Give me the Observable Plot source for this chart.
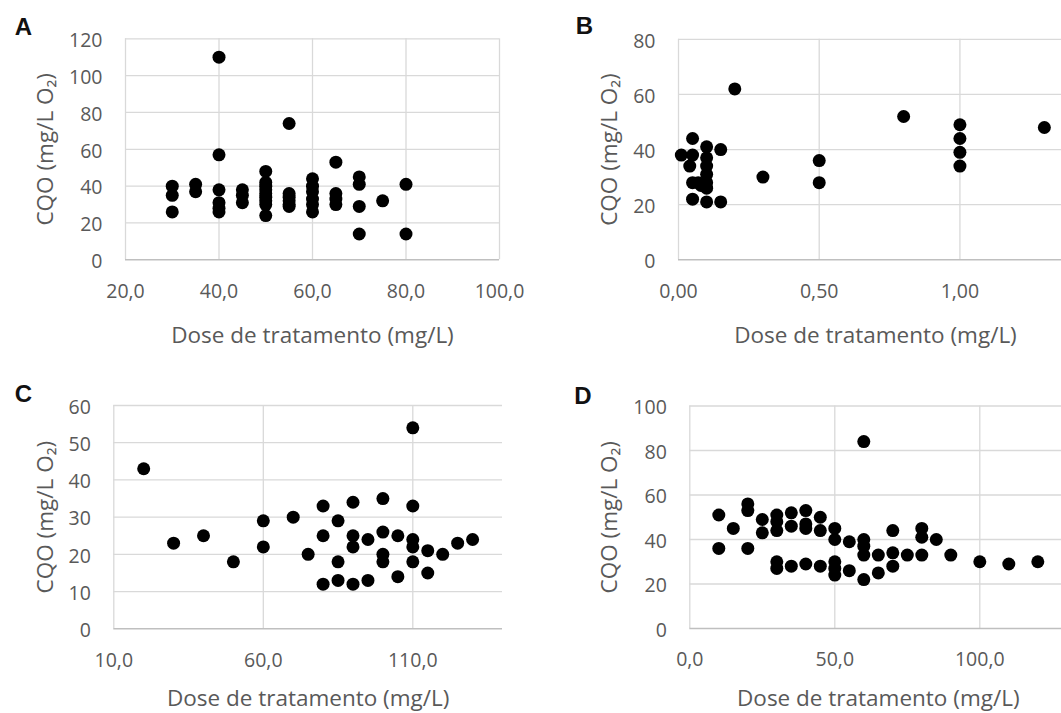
<!DOCTYPE html>
<html>
<head>
<meta charset="utf-8">
<script src="https://cdn.jsdelivr.net/npm/d3@7"></script>
<script src="https://cdn.jsdelivr.net/npm/@observablehq/plot@0.6"></script>
<style>
  html, body { margin: 0; padding: 0; background: #fff; overflow: hidden; }
  #wrap { position: relative; width: 1061px; height: 713px; overflow: hidden; background: #fff; }
  #wrap > svg { position: absolute; }
</style>
</head>
<body>
<div id="wrap"></div>
<script>
// ---------- DATA ----------
const xTitle = "Dose de tratamento (mg/L)";
const yTitle = "CQO (mg/L O\u2082)";
const panelLetters = ["A", "B", "C", "D"];

// Panel A
const aDose = [30,30,30, 35,35, 40,40,40,40,40,40, 45,45,45, 50,50,50,50,50,50,50,50,50, 55,55,55,55,55,55, 60,60,60,60,60,60, 65,65,65,65, 70,70,70,70, 75, 80,80];
const aCQO  = [40,35,26, 41,37, 110,57,38,31,28,26, 38,35,31, 48,42,40,38,36,34,32,30,24, 74,36,34,32,30,29, 44,40,37,33,30,26, 53,36,33,30, 45,41,29,14, 32, 41,14];
const aXTicks = [20, 40, 60, 80, 100];
const aYTicks = [0, 20, 40, 60, 80, 100, 120];

// Panel B
const bDose = [0.01,0.05,0.05,0.04,0.05,0.05,0.07,0.08,0.10,0.10,0.10,0.10,0.10,0.10,0.10,0.15,0.15,0.20,0.30,0.50,0.50,0.80,1.00,1.00,1.00,1.00,1.30];
const bCQO  = [38,  44,  38,  34,  28,  22,  28,  27,  41,  37,  34,  31,  28,  26,  21,  40,  21,  62,  30,  36,  28,  52,  49,  44,  39,  34,  48];
const bXTicks = [0, 0.5, 1.0];
const bYTicks = [0, 20, 40, 60, 80];

// Panel C
const cDose = [20,30,40,50,60,60,70,75,80,80,80,85,85,85,90,90,90,90,95,95,100,100,100,100,105,105,110,110,110,110,110,115,115,120,125,130];
const cCQO  = [43,23,25,18,29,22,30,20,33,25,12,29,18,13,34,25,22,12,24,13,35, 26, 20, 18, 25, 14, 54, 33, 24, 22, 18, 21, 15, 20, 23, 24];
const cXTicks = [10, 60, 110];
const cYTicks = [0, 10, 20, 30, 40, 50, 60];

// Panel D
const dDose = [10,10,15,20,20,20,25,25,30,30,30,30,30,35,35,35,40,40,40,40,45,45,45,50,50,50,50,50,55,55,60,60,60,60,60,65,65,70,70,70,75,80,80,80,85,90,100,110,120];
const dCQO  = [51,36,45,56,53,36,49,43,51,48,44,30,27,52,46,28,53,47,45,29,50,44,28,45,40,30,27,24,39,26,84,40,37,33,22,33,25,44,34,28,33,45,41,33,40,33, 30, 29, 30];
const dXTicks = [0, 50, 100];
const dYTicks = [0, 20, 40, 60, 80, 100];

// ---------- DRAWING ----------
const FONT = "'Open Sans', 'Noto Sans', sans-serif";
const TEXT = "#595959";
const GRID = "#d9d9d9";
const AXIS = "#bfbfbf";

function panel(cfg) {
  const pts = cfg.xs.map((x, i) => ({x, y: cfg.ys[i]}));
  const yGrid = cfg.yTicks.filter(v => v !== 0);
  const svg = Plot.plot({
    width: cfg.width, height: cfg.height,
    marginLeft: cfg.ml, marginRight: cfg.mr, marginTop: cfg.mt, marginBottom: cfg.mb,
    style: {fontFamily: FONT, fontSize: "19.5px", color: TEXT, background: "transparent", overflow: "visible"},
    x: {domain: cfg.xDomain, axis: null},
    y: {domain: cfg.yDomain, axis: null},
    marks: [
      Plot.ruleX(cfg.xTicks, {stroke: GRID, strokeWidth: 1.3}),
      Plot.ruleY(yGrid, {stroke: GRID, strokeWidth: 1.3}),
      Plot.ruleY([0], {stroke: AXIS, strokeWidth: 1.4}),
      Plot.axisX({ticks: cfg.xTicks, tickFormat: cfg.xFmt, tickSize: 0, tickPadding: 24, fill: TEXT, fontSize: 19.5, label: null}),
      Plot.axisY({ticks: cfg.yTicks, tickFormat: d => String(d), tickSize: 0, tickPadding: 23, dy: 2, fill: TEXT, fontSize: 19.5, label: null}),
      Plot.dot(pts, {x: "x", y: "y", r: 6.5, fill: "#000", stroke: "none"}),
      Plot.text([xTitle], {text: d => d, frameAnchor: "bottom", textAnchor: "middle", lineAnchor: "middle", dy: cfg.xtDy, fontSize: 22.5, fill: TEXT}),
      Plot.text([yTitle], {text: d => d, frameAnchor: "left", textAnchor: "middle", lineAnchor: "middle", rotate: -90, dx: cfg.ytDx, fontSize: 22.5, fill: TEXT}),
      Plot.text([cfg.letter], {text: d => d, frameAnchor: "top-left", textAnchor: "middle", lineAnchor: "middle", dx: cfg.lDx, dy: cfg.lDy, fontSize: 24, fontWeight: "bold", fontFamily: "'Liberation Sans', Arial, sans-serif", fill: "#111"})
    ]
  });
  svg.style.left = cfg.left + "px";
  svg.style.top = cfg.top + "px";
  document.getElementById("wrap").appendChild(svg);
}

const f1 = d => d.toFixed(1).replace(".", ",");
const f2 = d => d.toFixed(2).replace(".", ",");

panel({letter: panelLetters[0], xs: aDose, ys: aCQO, xDomain: [20, 100], yDomain: [0, 120], xTicks: aXTicks, yTicks: aYTicks, xFmt: f1,
  left: 0, top: 0, width: 530, height: 357, ml: 125, mr: 31, mt: 38.3, mb: 97.7,
  xtDy: 76, ytDx: -80, lDx: -102, lDy: -11.5});
panel({letter: panelLetters[1], xs: bDose, ys: bCQO, xDomain: [0, 1.4], yDomain: [0, 80], xTicks: bXTicks, yTicks: bYTicks, xFmt: f2,
  left: 530, top: 0, width: 552, height: 357, ml: 148, mr: 10, mt: 38.8, mb: 97.7,
  xtDy: 76, ytDx: -68.4, lDx: -94, lDy: -13});
panel({letter: panelLetters[2], xs: cDose, ys: cCQO, xDomain: [10, 140], yDomain: [0, 60], xTicks: cXTicks, yTicks: cYTicks, xFmt: f1,
  left: 0, top: 357, width: 530, height: 356, ml: 113.3, mr: 28, mt: 48, mb: 84.7,
  xtDy: 70, ytDx: -67.7, lDx: -90.5, lDy: -11.5});
panel({letter: panelLetters[3], xs: dDose, ys: dCQO, xDomain: [0, 130], yDomain: [0, 100], xTicks: dXTicks, yTicks: dYTicks, xFmt: f1,
  left: 530, top: 357, width: 552, height: 356, ml: 159.3, mr: 15.7, mt: 48.5, mb: 85,
  xtDy: 70, ytDx: -79.7, lDx: -106.8, lDy: -10});
</script>
</body>
</html>
